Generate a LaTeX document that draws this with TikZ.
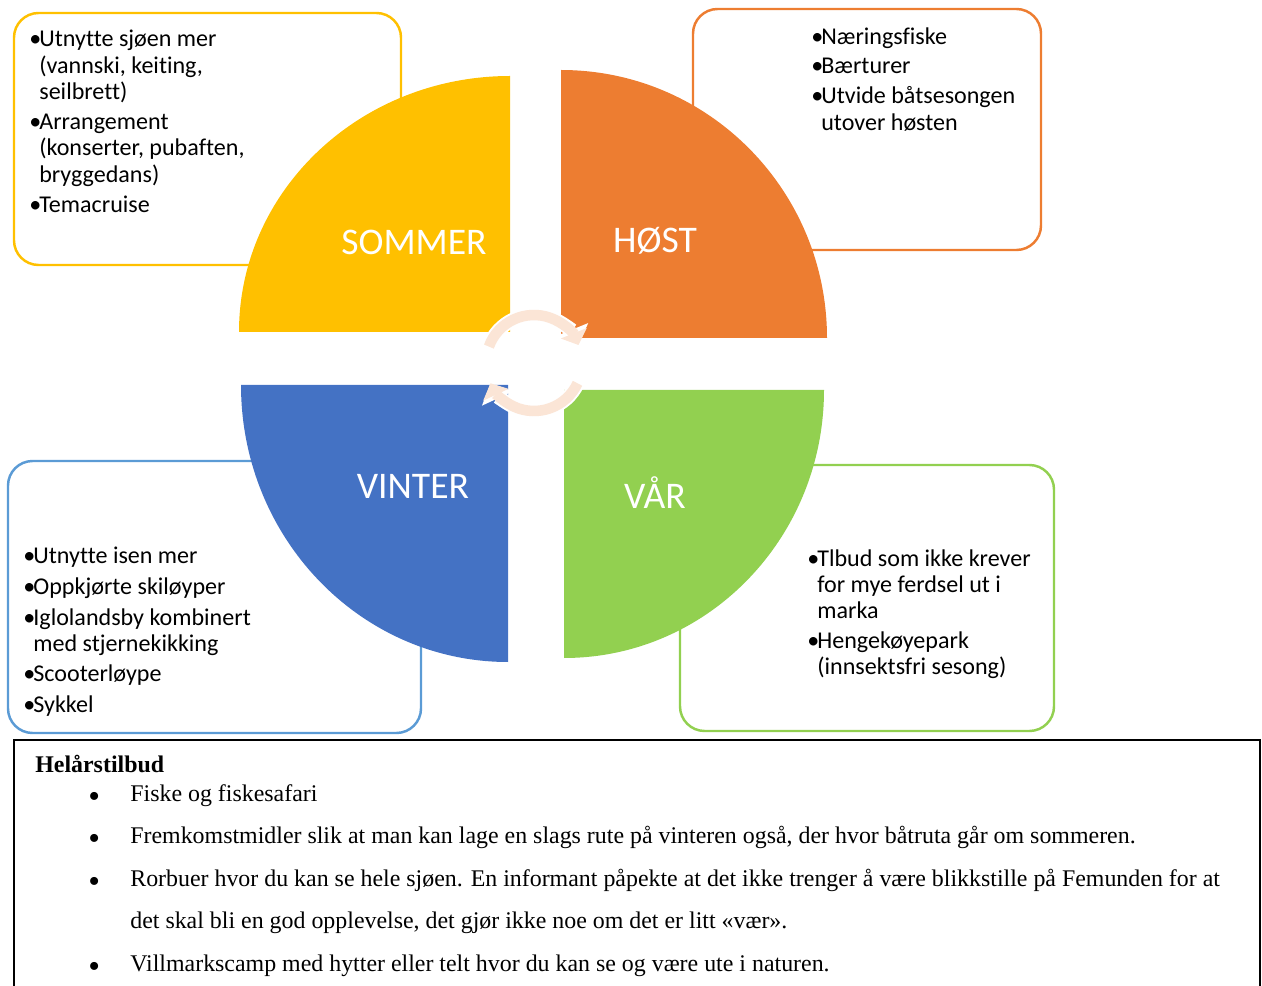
\documentclass[tikz,border=0pt]{standalone}
\usepackage{fontspec}
\setmainfont{Liberation Serif}
\newfontfamily\calib[Ligatures=CommonOff]{Carlito}
\usetikzlibrary{arrows.meta}
\definecolor{sommerGul}{HTML}{FFC000}
\definecolor{hostOrange}{HTML}{ED7D31}
\definecolor{vinterBla}{HTML}{4472C4}
\definecolor{vinterKant}{HTML}{5B9BD5}
\definecolor{varGronn}{HTML}{92D050}
\definecolor{syklusFersken}{HTML}{FBE5D6}
\newlength{\px}\setlength{\px}{0.02cm}
\newcommand{\bul}{\makebox[10\px][l]{•}}
\newcommand{\ind}{\hspace*{10\px}}
\newcommand{\bulT}{\makebox[42\px][l]{\raisebox{-0.55ex}{\scalebox{1.4}{•}}}}
\newcommand{\indT}{\hspace*{42\px}}

\begin{document}
\begin{tikzpicture}[x=0.02cm, y=-0.02cm,
    seasonbox/.style={line width=1.4pt, rounded corners=14pt},
    seasonlabel/.style={font=\calib\fontsize{21.4}{26}\selectfont, text=white, inner sep=0pt},
    listtext/.style={font=\calib\fontsize{13.7}{15}\selectfont, align=left,
                     anchor=north west, inner sep=0pt},
    cyclewhite/.style={line width=8.2pt, draw=white,
                       -{Triangle[width=19pt, length=9.5pt]}},
    cyclearrow/.style={line width=6pt, draw=syklusFersken,
                       -{Triangle[width=15.5pt, length=7.2pt]}}
  ]
  \useasboundingbox (0,0) rectangle (1262,986);

  % boxes round the circle
  \draw[seasonbox, draw=sommerGul] (14,13) rectangle (401,265);
  \draw[seasonbox, draw=hostOrange] (693,9) rectangle (1041,250);
  \draw[seasonbox, draw=vinterKant] (8,461) rectangle (421,733);
  \draw[seasonbox, draw=varGronn] (680,465) rectangle (1054,731);

  % quarter circles
  \fill[sommerGul] (510,332) -- (239,332)
    arc[start angle=180, end angle=270, x radius=271, y radius=256] -- cycle;
  \fill[hostOrange] (561,338) -- (561,70)
    arc[start angle=270, end angle=360, x radius=266, y radius=268] -- cycle;
  \fill[vinterBla] (508,385) -- (508,662)
    arc[start angle=90, end angle=180, x radius=267, y radius=277] -- cycle;
  \fill[varGronn] (564,390) -- (824,390)
    arc[start angle=0, end angle=90, x radius=260, y radius=268] -- cycle;

  \node[seasonlabel] (sommer) at (414,242) {SOMMER};
  \node[seasonlabel] (host) at (655,241) {HØST};
  \node[seasonlabel] (vinter) at (413,486) {VINTER};
  \node[seasonlabel] (var) at (655,493) {VÅR};

  % texts in the boxes
  \node[listtext] (sommertekst) at (29,30) {%
    \bul Utnytte sjøen mer\\ \ind(vannski, keiting,\\ \ind seilbrett)\\[2pt]
    \bul Arrangement\\ \ind(konserter, pubaften,\\ \ind bryggedans)\\[2pt]
    \bul Temacruise};
  \node[listtext] (hosttekst) at (811,27) {%
    \bul Næringsfiske\\[2pt]
    \bul Bærturer\\[2pt]
    \bul Utvide båtsesongen\\ \ind utover høsten};
  \node[listtext] (vintertekst) at (23,547) {%
    \bul Utnytte isen mer\\[2.4pt]
    \bul Oppkjørte skiløyper\\[2.4pt]
    \bul Iglolandsby kombinert\\ \ind med stjernekikking\\[2.4pt]
    \bul Scooterløype\\[2.4pt]
    \bul Sykkel};
  \node[listtext] (vartekst) at (807,549) {%
    \bul Tlbud som ikke krever\\ \ind for mye ferdsel ut i\\ \ind marka\\[2pt]
    \bul Hengekøyepark\\ \ind(innsektsfri sesong)};

  % cycle arrows in the middle
  \coordinate (sentrum) at (534,363);
  \draw[cyclewhite] (sentrum) ++(200:48) arc[start angle=200, end angle=338, radius=48];
  \draw[cyclewhite] (sentrum) ++(25:48) arc[start angle=25, end angle=155, radius=48];
  \draw[cyclearrow] (sentrum) ++(200:48) arc[start angle=200, end angle=338, radius=48];
  \draw[cyclearrow] (sentrum) ++(25:48) arc[start angle=25, end angle=155, radius=48];

  % all-year box
  \draw[line width=0.75pt] (14,986) -- (14,740) -- (1260,740) -- (1260,986);
  \node[anchor=north west, inner sep=0pt,
        font=\bfseries\fontsize{13.6}{15}\selectfont] (helaar) at (35,755) {Helårstilbud};
  \node[anchor=north west, inner sep=0pt, align=left,
        font=\fontsize{13.6}{24.2}\selectfont] (helaarliste) at (88,784) {%
    \bulT Fiske og fiskesafari\\
    \bulT Fremkomstmidler slik at man kan lage en slags rute på vinteren også, der hvor båtruta går om sommeren.\\
    \bulT Rorbuer hvor du kan se hele sjøen. En informant påpekte at det ikke trenger å være blikkstille på Femunden for at\\
    \indT det skal bli en god opplevelse, det gjør ikke noe om det er litt «vær».\\
    \bulT Villmarkscamp med hytter eller telt hvor du kan se og være ute i naturen.};
\end{tikzpicture}
\end{document}
